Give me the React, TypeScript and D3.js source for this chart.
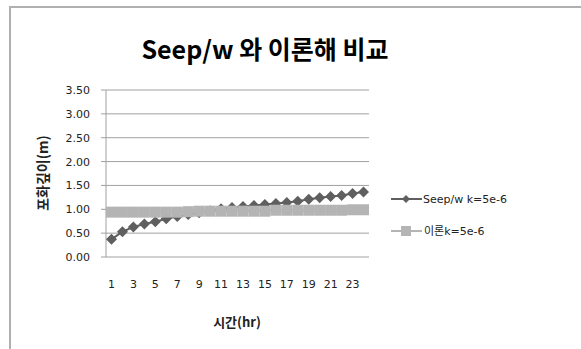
import React from "react";
import * as d3 from "d3";

const hours: number[] = d3.range(1, 25);
const seepValues: number[] = [0.37, 0.53, 0.63, 0.69, 0.74, 0.8, 0.85, 0.89, 0.93, 0.97, 1.01, 1.04, 1.06, 1.08, 1.1, 1.12, 1.14, 1.17, 1.21, 1.24, 1.27, 1.29, 1.33, 1.36];
const theoryValues: number[] = [0.94, 0.94, 0.94, 0.94, 0.94, 0.94, 0.94, 0.95, 0.96, 0.96, 0.96, 0.96, 0.96, 0.96, 0.96, 0.98, 0.98, 0.98, 0.98, 0.98, 0.98, 0.98, 0.99, 0.99];
const yTicks: number[] = [0, 0.5, 1, 1.5, 2, 2.5, 3, 3.5];
const seriesNames: string[] = ["Seep/w k=5e-6", "이론k=5e-6"];
const title = "Seep/w 와 이론해 비교";
const xTitle = "시간(hr)";
const yTitle = "포화깊이(m)";

const FONT = "'Noto Sans CJK KR', 'Noto Sans', sans-serif";
const NUMFONT = "'DejaVu Sans', 'Noto Sans CJK KR', sans-serif";

export default function App() {
  const W = 581, H = 349;
  const left = 106, right = 369, top = 90, bottom = 257;
  const x = d3.scaleBand<number>().domain(hours).range([left, right]);
  const y = d3.scaleLinear().domain([0, 3.5]).range([bottom, top]);
  const cx = (h: number) => (x(h) as number) + x.bandwidth() / 2;
  const line = d3.line<number>().x((_, i) => cx(hours[i])).y((v) => y(v));
  const diamond = "M0,-5.5L5.5,0L0,5.5L-5.5,0Z";
  const seepColor = "#5f5f5f";
  const theoryColor = "#b4b4b4";
  return (
    <svg width={W} height={H} style={{ position: "absolute", left: 0, top: 0 }}>
      <rect x={0} y={0} width={W} height={H} fill="#fff" />
      <path d={`M10,${H + 5} V7 H${W + 5}`} fill="none" stroke="#b0b0b0" strokeWidth={2} />
      <text x={265} y={59} textAnchor="middle" fontFamily={FONT} fontWeight="bold" fontSize={25} fill="#000">{title}</text>
      {yTicks.map((t) => (
        <g key={t}>
          <line x1={left - 5} x2={right} y1={y(t)} y2={y(t)} stroke="#a0a0a0" strokeWidth={1} />
          <text x={90} y={y(t) + 4} textAnchor="end" fontFamily={NUMFONT} fontSize={11} fill="#222">{t.toFixed(2)}</text>
        </g>
      ))}
      <line x1={left} x2={left} y1={top} y2={bottom} stroke="#a0a0a0" strokeWidth={1} />
      {hours.filter((h) => h % 2 === 1).map((h) => (
        <text key={h} x={cx(h)} y={288} textAnchor="middle" fontFamily={NUMFONT} fontSize={11} fill="#222">{h}</text>
      ))}
      <text x={237} y={327} textAnchor="middle" fontFamily={FONT} fontWeight="bold" fontSize={13} fill="#222">{xTitle}</text>
      <text transform={`translate(48,${173}) rotate(-90)`} textAnchor="middle" fontFamily={FONT} fontWeight="bold" fontSize={14} fill="#222">{yTitle}</text>
      <path d={line(seepValues) || ""} fill="none" stroke={seepColor} strokeWidth={2} />
      {seepValues.map((v, i) => (
        <path key={i} d={diamond} transform={`translate(${cx(hours[i])},${y(v)})`} fill={seepColor} />
      ))}
      <path d={line(theoryValues) || ""} fill="none" stroke={theoryColor} strokeWidth={2} />
      {theoryValues.map((v, i) => (
        <rect key={i} x={cx(hours[i]) - 5.5} y={y(v) - 5.5} width={11} height={11} fill={theoryColor} />
      ))}
      <g>
        <line x1={391} x2={422} y1={199} y2={199} stroke={seepColor} strokeWidth={2} />
        <path d={"M0,-4L4,0L0,4L-4,0Z"} transform="translate(406,199)" fill={seepColor} />
        <text x={423} y={203} fontFamily={NUMFONT} fontSize={11} fill="#222">{seriesNames[0]}</text>
        <line x1={391} x2={422} y1={231} y2={231} stroke={theoryColor} strokeWidth={2} />
        <rect x={401} y={226} width={10} height={10} fill={theoryColor} />
        <text x={424} y={235} fontFamily={NUMFONT} fontSize={11} fill="#222">{seriesNames[1]}</text>
      </g>
    </svg>
  );
}
